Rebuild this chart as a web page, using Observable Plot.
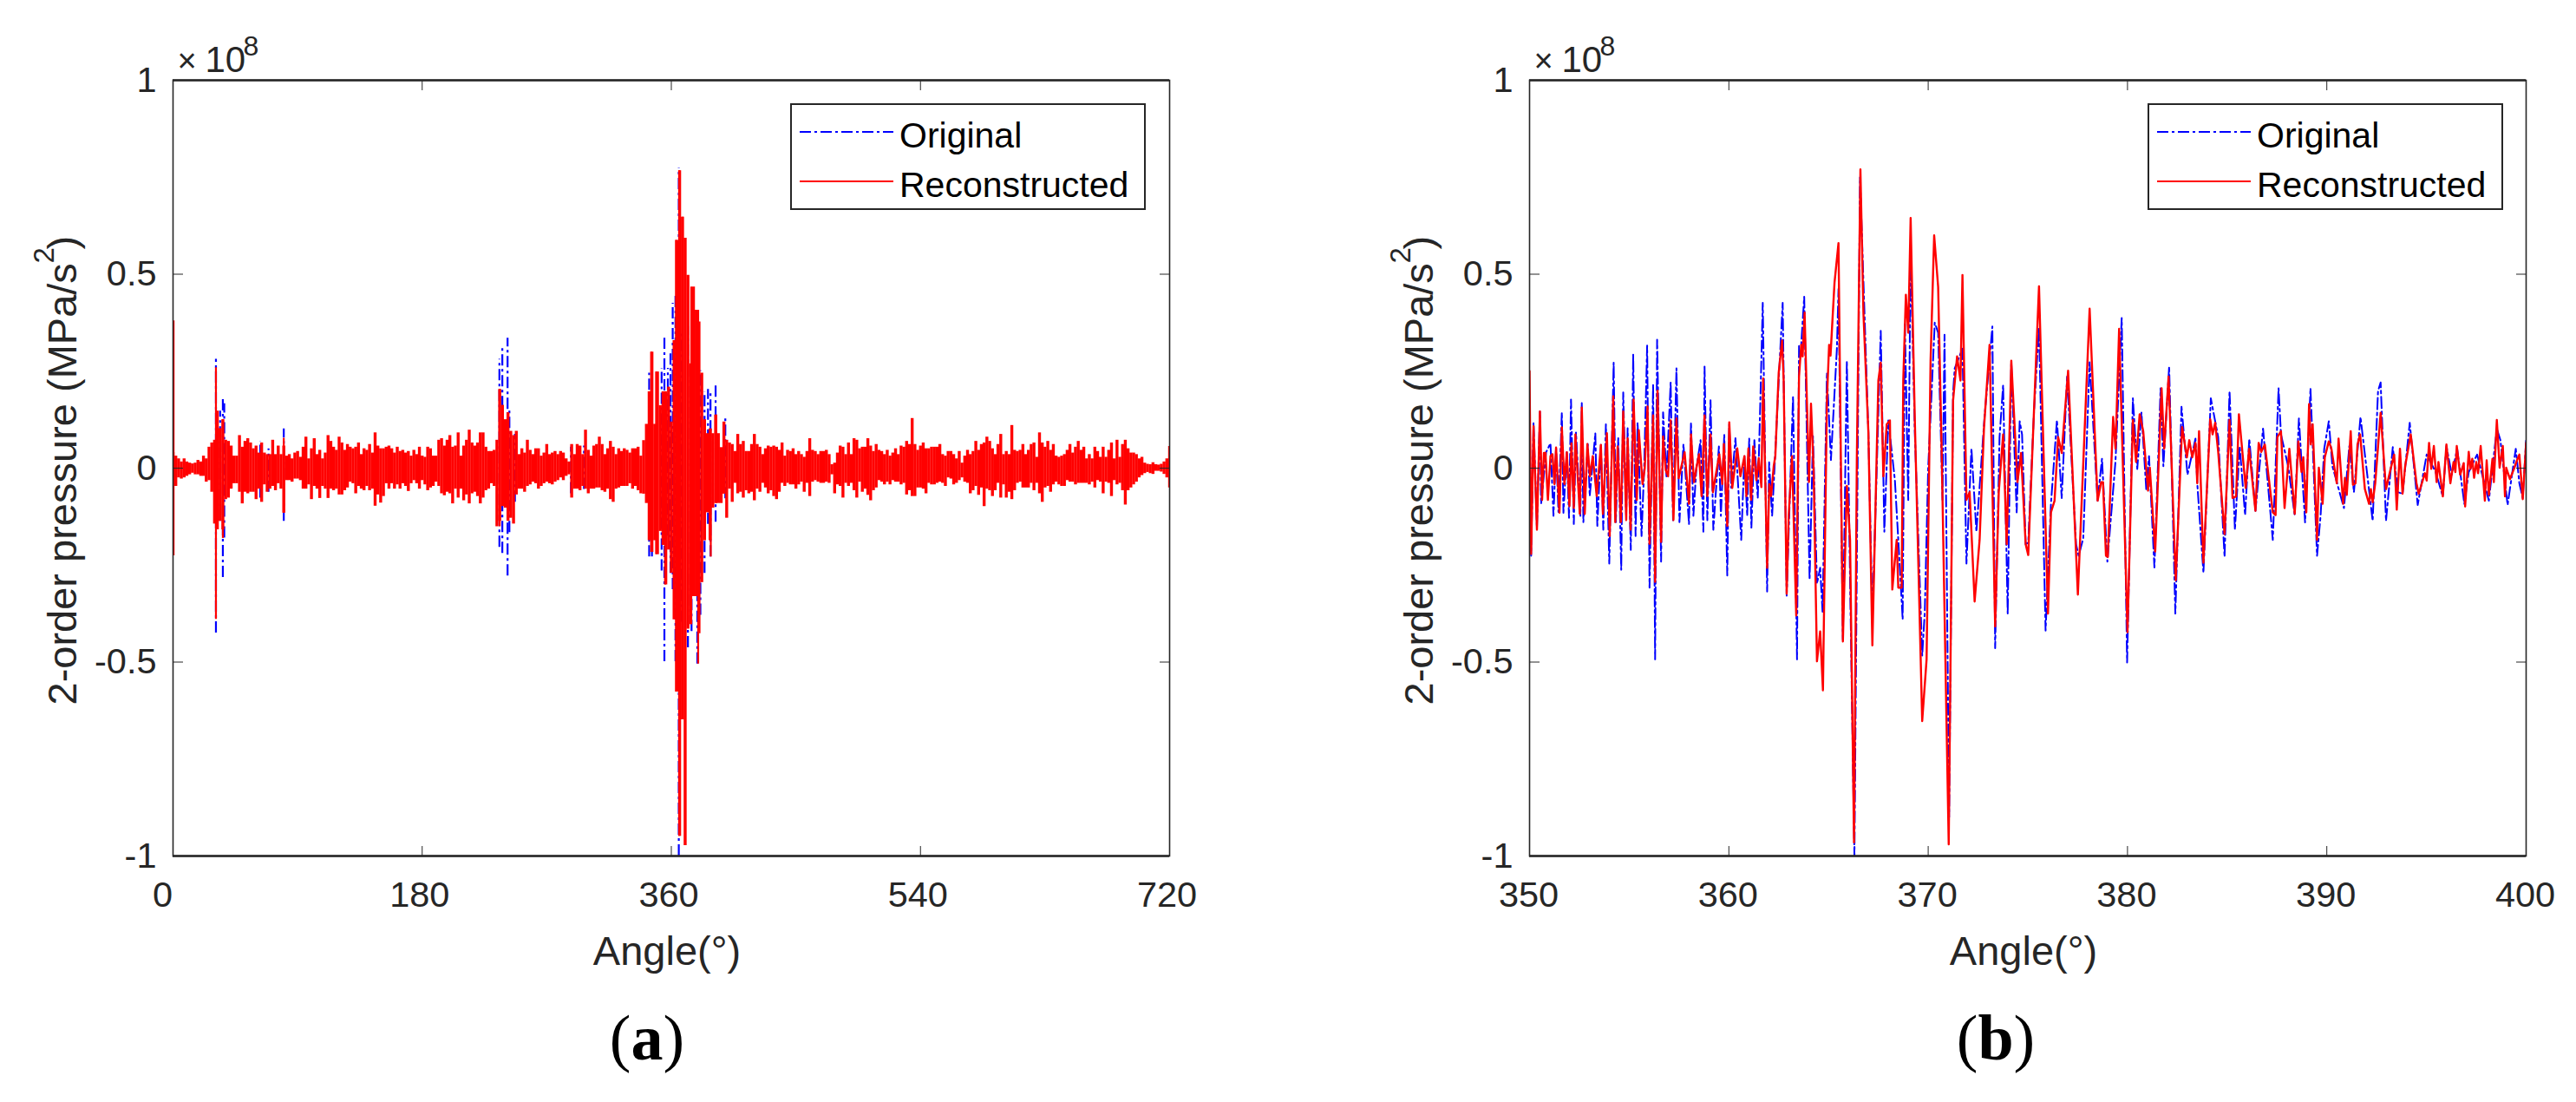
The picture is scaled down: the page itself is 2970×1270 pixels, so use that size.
<!DOCTYPE html>
<html><head><meta charset="utf-8">
<script src="https://cdn.jsdelivr.net/npm/d3@7"></script>
<script src="https://cdn.jsdelivr.net/npm/@observablehq/plot@0.6"></script>
<style>
html,body{margin:0;padding:0;background:#fff;width:2970px;height:1270px;overflow:hidden}
#page{position:relative;width:2970px;height:1270px;font-family:"Liberation Sans",Arial,sans-serif}
.panel{position:absolute;top:0}
.legend{position:absolute;top:119px;width:406px;height:119px;border:2px solid #262626;background:#fff;color:#000;font-size:41px}
.legend svg{position:absolute;left:9px;width:108px;height:10px;overflow:visible}
.legend span{position:absolute;left:124px;line-height:46px;white-space:nowrap}
.cap{position:absolute;top:1153px;width:200px;text-align:center;font-family:"Liberation Serif",serif;font-size:74px;color:#000;line-height:86px}
</style></head>
<body><div id="page"></div>
<script>
// Panel (a): envelope of the dense signal, one value per 2 degrees, in 1e5 MPa/s^2 (1e8 = 1000)
const upperFrom0 = [40,31,24,16,24,16,13,11,13,20,16,31,24,54,65,72,147,102,125,72,69,57,31,31,84,54,69,76,65,50,57,39,65,39,35,35,72,35,57,35,57,31,35,24,39,43,28,54,80,24,50,76,35,46,24,39,84,69,54,46,80,65,46,61,54,50,54,65,35,50,46,61,39,91,57,50,50,54,57,50,39,54,43,46,39,43,31,46,35,54];
const lowerFrom0 = [-40,-47,-25,-28,-25,-21,-17,-13,-17,-17,-21,-21,-36,-32,-62,-144,-159,-137,-159,-81,-77,-54,-40,-40,-62,-92,-62,-66,-62,-62,-81,-54,-88,-43,-62,-54,-47,-58,-40,-54,-116,-32,-32,-36,-28,-28,-32,-54,-54,-43,-81,-47,-54,-78,-47,-54,-78,-54,-58,-54,-69,-69,-58,-51,-36,-40,-66,-47,-54,-58,-47,-58,-54,-98,-69,-90,-73,-40,-54,-40,-54,-43,-54,-40,-47,-60,-40,-32,-40,-54];
const upperFrom180 = [31,28,54,50,31,31,72,76,57,72,84,54,57,91,31,57,72,98,65,57,65,91,91,54,43,43,46,72,203,162,125,143,95,84,95,35,50,39,72,46,35,50,50,31,39,61,35,39,43,35,43,39,24,16,61,35,61,57,35,98,46,31,57,61,80,61,35,50,69,54,35,50,43,50,46,39,50,50,54,31];
const lowerFrom180 = [-32,-43,-58,-51,-47,-36,-47,-66,-71,-62,-66,-92,-54,-77,-54,-84,-69,-92,-66,-62,-73,-92,-77,-58,-54,-40,-47,-151,-137,-99,-103,-137,-129,-144,-69,-54,-54,-62,-47,-43,-36,-40,-54,-47,-40,-36,-40,-43,-36,-32,-25,-32,-21,-17,-77,-54,-54,-58,-47,-54,-66,-54,-54,-51,-51,-58,-62,-54,-81,-88,-54,-51,-47,-47,-47,-40,-54,-47,-58,-66];
const upperFrom340 = [71,113,197,299,113,248,161,197,197,209,119,329,587,767,647,593,497,269,467,407,377,245,125,89,101,89,137,89,53,119];
const lowerFrom340 = [-67,-91,-187,-217,-187,-223,-163,-199,-301,-211,-271,-391,-577,-949,-649,-973,-415,-403,-331,-331,-427,-295,-187,-115,-187,-103,-91,-91,-91,-67];
const upperFrom400 = [72,65,61,43,87,61,69,43,43,61,87,61,54,35,50,57,54,57,54,46,65,31,46,43,50,35,43,35,28,43,76,46,43,35,43,43,46,35,9,13,39,57,54,35,65,35,76,72,50,54,54,76,57,43,61,46,43,35,46,31,39,50,35,57,54,69,61,128,61,46];
const lowerFrom400 = [-129,-54,-88,-39,-66,-62,-77,-58,-66,-62,-84,-54,-62,-39,-51,-66,-58,-73,-81,-62,-39,-47,-39,-43,-43,-54,-43,-36,-62,-39,-73,-36,-32,-36,-39,-39,-36,-39,-17,-66,-43,-47,-77,-39,-47,-39,-58,-77,-36,-62,-54,-70,-84,-58,-51,-32,-36,-43,-36,-43,-32,-36,-36,-43,-39,-69,-58,-73,-73,-51];
const upperFrom540 = [57,65,50,50,54,54,54,61,35,31,43,43,35,24,43,13,31,46,35,43,69,46,61,65,80,69,50,35,61,87,35,43,35,110,46,43,46,61,35,46,61,65,28,91,65,54,69,46,61,31,28,31,35,46,61,39,54,69,46,54,24,35,24,54,43,28,54,28,46,65,24,72,28,61,72,50,39,39,35,24,28,13,10,9,14,9,8,10,16,24,56];
const lowerFrom540 = [-51,-54,-66,-39,-43,-43,-39,-36,-39,-47,-25,-28,-43,-39,-32,-25,-36,-39,-66,-58,-47,-70,-51,-99,-54,-58,-73,-58,-39,-77,-43,-77,-62,-81,-58,-39,-36,-51,-51,-51,-39,-58,-39,-66,-88,-51,-47,-62,-43,-36,-43,-47,-47,-32,-36,-36,-43,-39,-39,-39,-39,-43,-36,-51,-32,-36,-66,-36,-39,-73,-32,-43,-39,-58,-95,-58,-51,-43,-36,-25,-19,-14,-11,-14,-16,-8,-8,-10,-16,-25,-51];

// Panel (a): isolated peaks reaching past the envelope
const redPeakAngle = [0.4,31,36,80,236,345.4,349,355.5,363.4,365.8,368.3,370,374.4,379.4,388.5,392.5];
const redPeakHigh  = [380,259,125,77,203,299,248,197,587,767,647,593,467,407,101,137];
const redPeakLow   = [-226,-390,-181,-116,-151,-217,-223,-301,-577,-949,-649,-973,-403,-505,-229,-91];
const bluePeakAngle = [31,34,36,37,63,69,80,235.8,237.9,241.7,243,247,287.5,296.9,344,346,353,355,357.5,359.4,361,363,365.4,367.5,372,374.6,378.8,381,384,386.5,388.3,392,399];
const bluePeakHigh  = [281,147,178,166,69,50,101,281,310,335,154,87,54,57,245,220,257,335,257,300,425,443,773,353,365,300,383,251,197,203,197,215,131];
const bluePeakLow   = [-425,-137,-282,-180,-77,-62,-137,-204,-220,-278,-166,-88,-66,-55,-229,-229,-265,-499,-175,-271,-313,-499,-1000,-397,-463,-421,-505,-379,-271,-145,-229,-139,-79];

// Panel (b): turning points of each trace, angle in degrees and value in 1e5 MPa/s^2
const redAngleB = [350,350.08,350.2,350.37,350.52,350.63,350.72,350.8,350.92,351.05,351.15,351.25,351.33,351.5,351.62,351.75,351.87,352,352.1,352.22,352.3,352.52,352.62,352.77,352.9,353.03,353.17,353.37,353.58,353.68,353.88,354.02,354.2,354.3,354.42,354.58,354.7,354.85,354.92,355.07,355.22,355.38,355.48,355.67,355.78,355.92,356.02,356.2,356.3,356.42,356.6,356.7,356.83,356.95,357.08,357.22,357.37,357.48,357.62,357.78,358,358.1,358.25,358.37,358.5,358.63,358.78,358.92,359.08,359.2,359.52,359.67,359.75,359.92,360.02,360.17,360.42,360.58,360.78,360.88,360.98,361.12,361.22,361.38,361.5,361.63,361.72,361.92,362.03,362.12,362.25,362.33,362.5,362.67,362.75,362.9,363,363.17,363.38,363.52,363.63,363.7,363.8,364.02,364.12,364.25,364.42,364.58,364.72,364.92,365.03,365.1,365.3,365.5,365.72,365.92,366.08,366.28,366.42,366.6,366.75,367,367.2,367.5,367.62,367.75,367.92,368.08,368.2,368.42,368.5,368.67,368.75,368.88,369,369.12,369.33,369.7,369.92,370.12,370.3,370.5,370.67,371.03,371.25,371.45,371.62,371.72,371.92,372.08,372.33,372.58,372.8,373.08,373.36,373.54,373.76,373.94,374.17,374.48,374.66,374.89,375.02,375.31,375.56,376.01,376.16,376.34,376.52,376.7,377.02,377.51,378.1,378.5,378.68,378.77,378.92,379.01,379.28,379.4,379.58,380,380.27,380.43,380.61,380.79,381.03,381.12,381.39,381.71,381.84,382.06,382.42,382.74,382.98,383.1,383.25,383.41,383.5,383.59,383.81,384.15,384.27,384.4,384.55,384.87,385.12,385.27,385.45,385.59,385.93,386.1,386.42,386.58,386.71,386.89,387.29,387.43,387.52,387.7,387.88,388.12,388.39,388.57,388.73,388.82,388.97,389.11,389.2,389.29,389.51,389.6,389.79,389.9,390.1,390.23,390.5,390.59,390.82,390.91,391,391.2,391.31,391.44,391.54,391.67,391.91,392.12,392.21,392.3,392.43,392.7,392.97,393.2,393.38,393.51,393.67,393.8,393.93,394.21,394.5,394.61,394.92,395.01,395.13,395.24,395.37,395.51,395.6,395.82,396,396.2,396.36,396.45,396.52,396.69,396.87,396.94,397.12,397.21,397.3,397.39,397.5,397.59,397.72,397.93,398.02,398.13,398.31,398.38,398.53,398.67,398.83,398.94,399,399.19,399.39,399.54,399.66,399.83,400];
const redValueB = [250,-221,108,-159,146,-82,39,39,-82,31,36,-41,53,-115,105,-41,41,-98,64,-103,87,-118,156,-118,62,-21,31,-72,60,-118,90,-175,185,-139,56,-139,146,-134,77,-159,177,-82,98,-41,0,159,-195,136,-293,200,-190,82,-5,-21,123,-134,128,-26,5,41,-92,87,-36,0,36,-72,136,-72,87,-62,36,-41,62,-149,118,-51,51,-21,31,-72,51,-82,56,-31,26,-49,231,-257,-41,-72,5,31,246,329,226,-324,-123,31,-380,236,318,288,401,-36,166,0,-498,-421,-573,175,318,290,478,580,-447,-46,-185,-965,21,770,401,92,-457,226,272,-21,113,123,-313,-185,-308,-308,226,447,349,645,123,-652,-493,277,600,467,62,-970,175,288,226,498,-82,-62,-344,-185,103,318,-408,-62,87,-196,277,-36,39,-196,-224,150,469,-375,-114,-84,80,39,251,-326,411,-84,-36,-36,-226,-229,132,50,359,-423,124,16,139,95,-58,1,-215,206,50,236,-289,106,28,72,28,65,-39,95,-244,126,87,117,42,-170,124,-77,-73,139,-51,50,-110,65,42,61,-114,-121,80,95,-103,50,-118,69,-10,28,-114,165,61,113,-185,1,-92,28,69,50,-39,76,-92,-25,-69,95,-43,-39,61,87,-54,-92,-54,-88,-39,143,-54,-2,35,-107,50,-66,5,87,-39,-66,-13,-32,65,-2,57,-36,16,-73,61,-39,16,-10,57,-17,13,-99,42,-2,24,-25,16,-13,57,-84,20,-69,24,-36,124,1,57,-73,1,-28,-2,20,35,-80,65];
const blueAngleB = [350,350.08,350.2,350.37,350.52,350.58,350.83,351.05,351.2,351.33,351.45,351.62,351.7,351.87,351.98,352.08,352.22,352.33,352.55,352.62,352.7,352.92,353.02,353.3,353.4,353.58,353.7,353.83,354,354.22,354.33,354.45,354.6,354.7,354.85,354.92,355.08,355.2,355.32,355.42,355.62,355.75,355.9,356.02,356.2,356.3,356.4,356.6,356.7,356.87,357.08,357.2,357.37,357.52,357.72,358,358.1,358.22,358.37,358.58,358.72,358.78,358.92,359.08,359.22,359.5,359.6,359.77,359.92,360.02,360.12,360.33,360.62,360.78,360.92,361.02,361.13,361.28,361.45,361.58,361.7,361.92,362.02,362.17,362.33,362.5,362.7,362.9,363.22,363.42,363.52,363.63,363.78,364.05,364.22,364.42,364.58,364.7,364.92,365.12,365.42,365.5,365.72,365.92,366.08,366.3,366.58,367,367.2,367.62,367.8,368,368.33,368.5,368.72,368.83,369,369.12,369.33,369.7,369.83,370,370.33,370.5,370.72,370.82,371.05,371.25,371.33,371.72,371.92,372.17,372.42,372.83,373.22,373.36,373.58,373.76,373.99,374.17,374.44,374.59,374.71,374.89,375.02,375.31,375.56,375.89,376.16,376.46,376.7,376.97,377.42,377.55,377.78,378.1,378.5,378.72,378.99,379.4,379.71,379.98,380.27,380.49,380.7,380.94,381.08,381.35,381.66,381.8,382.09,382.4,382.71,383.01,383.41,383.5,383.81,384.18,384.55,384.87,385.12,385.39,385.63,385.9,386.11,386.42,386.8,387.29,387.58,387.7,388.06,388.39,388.6,388.91,389.18,389.51,389.69,389.87,390.1,390.28,390.86,391.13,391.36,391.69,392.3,392.57,392.7,392.97,393.31,393.57,393.8,394.16,394.56,395.01,395.46,395.82,396,396.27,396.54,396.9,397.12,397.54,398.13,398.53,398.71,399.07,399.48,399.66,399.83,400];
const blueValueB = [175,-226,118,-154,146,-92,41,64,-123,53,-113,144,-115,41,-128,177,-144,92,-123,169,-139,62,-72,90,-149,60,-159,113,-246,272,-139,77,-262,195,-123,103,-211,293,-175,118,-175,0,316,-308,216,-493,331,-241,144,-21,221,-134,257,-139,62,-144,118,-123,0,72,-164,262,-134,175,-159,56,-123,87,-277,113,-51,77,-185,31,-123,77,-154,72,-77,175,426,-318,15,-123,41,226,426,-329,185,-493,318,318,442,-288,82,-298,-257,-370,246,21,308,462,-442,277,-288,-1000,750,92,-390,354,-164,123,-31,-185,-390,375,-82,560,92,-483,-370,0,375,349,-82,344,-900,195,257,308,-246,51,-164,134,365,-464,80,214,-375,273,-114,121,87,-196,-192,147,363,-419,-92,124,-77,236,-196,-226,-181,273,-84,24,-241,20,387,-501,180,-2,143,-54,31,-256,206,5,262,-375,158,-17,76,-39,-270,180,80,-229,199,-159,57,-121,76,-110,102,-185,206,87,5,-121,128,-140,206,-226,-121,50,121,5,-103,57,-62,132,-136,199,221,-136,54,-62,-66,117,-95,35,-10,-73,57,-17,50,-92,-10,35,-84,102,72,-95,50,-39,-77,72];

// Axis labels and ticks
const yTicks = [-1,-0.5,0,0.5,1];
const xTicksA = [0,180,360,540,720];
const xTicksB = [350,360,370,380,390,400];
const yLabelMain = "2-order pressure (MPa/s";
const yLabelPower = "2";
const yLabelClose = ")";
const xLabel = "Angle(\u00b0)";
const seriesNames = ["Original","Reconstructed"];
const captions = ["a","b"];

const INK = "#262626", BLUE = "#0000ff", RED = "#ff0000", DASH = "13,4,3,4";

const columns = (start, upper, lower) => upper.map((u,i) => ({a:start+2*i, hi:u/1000, lo:lower[i]/1000}));
const peaks = (angles, hi, lo) => angles.map((a,i) => ({a, hi:hi[i]/1000, lo:lo[i]/1000}));
const trace = (angles, values) => angles.map((a,i) => ({a, v:values[i]/1000}));

const bandA = [
  ...columns(0,upperFrom0,lowerFrom0),
  ...columns(180,upperFrom180,lowerFrom180),
  ...columns(340,upperFrom340,lowerFrom340),
  ...columns(400,upperFrom400,lowerFrom400),
  ...columns(540,upperFrom540,lowerFrom540)
];
const redPeaksA = peaks(redPeakAngle,redPeakHigh,redPeakLow);
const bluePeaksA = peaks(bluePeakAngle,bluePeakHigh,bluePeakLow);
const redB = trace(redAngleB,redValueB);
const blueB = trace(blueAngleB,blueValueB);

function xLabels(ticks, dx){
  return Plot.axisX(ticks,{anchor:"bottom",tickSize:0,tickPadding:29,label:null,tickFormat:d=>String(d),fontSize:41.5,fill:INK,dx});
}

function frameMarks(xTicks, labelAxes, labelDx){
  return [
    Plot.axisX(xTicks,{anchor:"bottom",tickSize:-11,label:null,tickFormat:()=>"",stroke:INK,strokeWidth:1}),
    ...labelAxes,
    Plot.axisX(xTicks,{anchor:"top",tickSize:-11,label:null,tickFormat:()=>"",stroke:INK,strokeWidth:1}),
    Plot.axisY(yTicks,{anchor:"left",tickSize:-12,label:null,tickFormat:()=>"",stroke:INK,strokeWidth:1}),
    Plot.axisY(yTicks,{anchor:"left",tickSize:0,tickPadding:19,label:null,tickFormat:d=>String(d),fontSize:41.5,fill:INK}),
    Plot.axisY(yTicks,{anchor:"right",tickSize:-12,label:null,tickFormat:()=>"",stroke:INK,strokeWidth:1}),
    Plot.frame({stroke:INK,strokeWidth:1.6}),
    Plot.ruleY([-1,1],{stroke:INK,strokeWidth:2.6}),
    Plot.text([yLabelMain],{frameAnchor:"left",dx:-127,dy:273,rotate:-90,fontSize:47,fill:INK,lineAnchor:"middle",textAnchor:"start"}),
    Plot.text([yLabelPower],{frameAnchor:"left",dx:-148,dy:-236,rotate:-90,fontSize:33,fill:INK,lineAnchor:"middle",textAnchor:"start"}),
    Plot.text([yLabelClose],{frameAnchor:"left",dx:-127,dy:-252,rotate:-90,fontSize:47,fill:INK,lineAnchor:"middle",textAnchor:"start"}),
    Plot.text([xLabel],{frameAnchor:"bottom",dx:-5,dy:92,fontSize:47,fill:INK,lineAnchor:"top"}),
    Plot.text(["\u00d7"],{frameAnchor:"top-left",dx:5,dy:-10,fontSize:38,fill:INK,textAnchor:"start",lineAnchor:"bottom"}),
    Plot.text(["10"],{frameAnchor:"top-left",dx:37,dy:-10,fontSize:42,fill:INK,textAnchor:"start",lineAnchor:"bottom"}),
    Plot.text(["8"],{frameAnchor:"top-left",dx:81,dy:-29,fontSize:32,fill:INK,textAnchor:"start",lineAnchor:"bottom"})
  ];
}

function panel(left, marginLeft, marginRight, xDomain, xTicks, labelAxes, marks){
  const plot = Plot.plot({
    width:1485, height:1140,
    marginLeft, marginRight, marginTop:92, marginBottom:154,
    style:{fontFamily:'"Liberation Sans",Arial,sans-serif',background:"transparent",overflow:"visible"},
    x:{domain:xDomain,axis:null},
    y:{domain:[-1,1],axis:null},
    marks:[...marks,...frameMarks(xTicks,labelAxes)]
  });
  plot.classList.add("panel");
  plot.style.left = left+"px";
  document.getElementById("page").appendChild(plot);
}

panel(0,199,137,[0,720],xTicksA,[xLabels([0],-12),xLabels(xTicksA.slice(1),-3)],[
  Plot.ruleX(bluePeaksA,{x:"a",y1:"lo",y2:"hi",stroke:BLUE,strokeWidth:2.2,strokeDasharray:DASH,clip:true}),
  Plot.ruleX(bandA,{x:"a",y1:"lo",y2:"hi",stroke:RED,strokeWidth:3.4,clip:true}),
  Plot.ruleX(redPeaksA,{x:"a",y1:"lo",y2:"hi",stroke:RED,strokeWidth:2.2,clip:true})
]);
panel(1485,278,58,[350,400],xTicksB,[xLabels(xTicksB,-1)],[
  Plot.line(blueB,{x:"a",y:"v",stroke:BLUE,strokeWidth:2,strokeDasharray:DASH,clip:true}),
  Plot.line(redB,{x:"a",y:"v",stroke:RED,strokeWidth:2.4,clip:true})
]);

// Legends and captions
const page = document.getElementById("page");
[911,2476].forEach(x=>{
  const box = document.createElement("div");
  box.className = "legend";
  box.style.left = x+"px";
  box.innerHTML =
    `<svg style="top:26px"><line x1="0" x2="108" y1="5" y2="5" stroke="${BLUE}" stroke-width="2" stroke-dasharray="${DASH}"/></svg>`+
    `<span style="top:12px">${seriesNames[0]}</span>`+
    `<svg style="top:83px"><line x1="0" x2="108" y1="5" y2="5" stroke="${RED}" stroke-width="2"/></svg>`+
    `<span style="top:69px">${seriesNames[1]}</span>`;
  page.appendChild(box);
});
[646,2201].forEach((x,i)=>{
  const c = document.createElement("div");
  c.className = "cap";
  c.style.left = x+"px";
  c.innerHTML = `(<b>${captions[i]}</b>)`;
  page.appendChild(c);
});
</script>
</body></html>
